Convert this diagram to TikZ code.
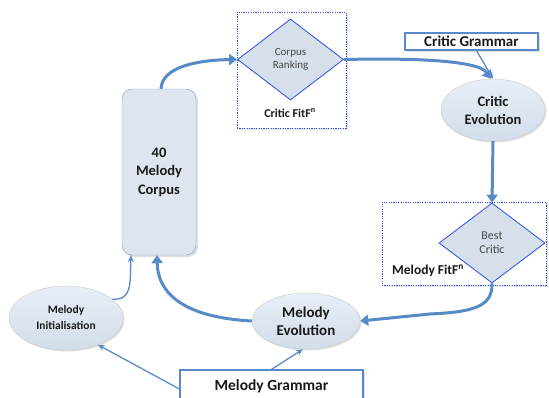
\documentclass[tikz,border=0pt]{standalone}
\usepackage{fontspec}
\setmainfont{Carlito}
\usetikzlibrary{shapes.geometric,arrows.meta,shadows}
\definecolor{arrowc}{RGB}{88,138,200}
\definecolor{ellfill}{RGB}{210,221,235}
\definecolor{elltop}{RGB}{232,238,246}
\definecolor{dotblue}{RGB}{40,80,230}
\definecolor{diafill}{RGB}{214,223,234}
\definecolor{txt}{RGB}{25,25,25}
\definecolor{txtgrey}{RGB}{70,70,70}
\newcommand{\fs}[2]{\fontsize{#1}{#2}\selectfont}
\begin{document}
\begin{tikzpicture}[x=1pt,y=-1pt,
  every node/.style={text=txt, align=center},
  ell/.style={ellipse, draw=white!80!black, top color=elltop, bottom color=ellfill, inner sep=0pt,
    drop shadow={shadow xshift=1.5pt, shadow yshift=-1.5pt, opacity=0.25}},
  gbox/.style={rectangle, draw=arrowc, line width=1.2pt, fill=white, inner sep=0pt,
    drop shadow={shadow xshift=2pt, shadow yshift=-2pt, opacity=0.25}},
  fitbox/.style={rectangle, draw=dotblue, dash pattern=on 1.2pt off 1.2pt, line width=0.9pt, fill=white, inner sep=0pt,
    drop shadow={shadow xshift=2pt, shadow yshift=-2pt, opacity=0.2}},
  dia/.style={diamond, draw=dotblue, line width=0.8pt, fill=diafill, inner sep=0pt, text=txtgrey},
  thickarr/.style={draw=arrowc, line width=3pt, -{Triangle[length=8pt,width=11pt]}},
  thinarr/.style={draw=arrowc, line width=1.3pt, -{Stealth[length=7pt,width=6pt]}}
]
\useasboundingbox (0,0) rectangle (549,397);

% fitness boxes
\node[fitbox, minimum width=109pt, minimum height=116pt] (fitA) at (291.5,70) {};
\node[fitbox, minimum width=164pt, minimum height=83pt] (fitB) at (464,243.5) {};
\node[dia, minimum width=106pt, minimum height=81pt, font=\fs{11}{13}] (rank) at (290.5,59.5) {Corpus\\Ranking};
\node[font=\fs{12}{14}\bfseries] (critfit) at (290,113) {Critic FitF\textsuperscript{n}};
\node[dia, minimum width=106pt, minimum height=80pt, font=\fs{12}{14}] (best) at (492,243) {Best\\Critic};
\node[font=\fs{13.5}{16}\bfseries] (melfit) at (428,271) {Melody FitF\textsuperscript{n}};

% grammar boxes
\node[gbox, minimum width=133pt, minimum height=17pt, font=\fs{15}{17}\bfseries] (cgram) at (471.5,41.5) {Critic Grammar};
\node[gbox, minimum width=183pt, minimum height=32pt, font=\fs{15.5}{18}\bfseries] (mgram) at (271.5,386) {Melody Grammar};

% ellipses
\node[ell, minimum width=104pt, minimum height=62pt, font=\fs{14.5}{18}\bfseries] (critevo) at (493,110) {Critic\\Evolution};
\node[ell, minimum width=108pt, minimum height=56pt, font=\fs{15}{18}\bfseries] (melevo) at (306,321) {Melody\\Evolution};
\node[ell, minimum width=114pt, minimum height=64pt, font=\fs{11.5}{16}\bfseries] (melinit) at (66,318) {Melody\\Initialisation};

% corpus
\node[rectangle, rounded corners=10pt, draw=arrowc!80, fill=diafill!80!white, minimum width=74pt, minimum height=166pt,
  inner sep=0pt, font=\fs{14.5}{18.5}\bfseries,
  drop shadow={shadow xshift=2pt, shadow yshift=-2pt, opacity=0.25}] (corpus) at (159,172) {40\\Melody\\Corpus};

% connectors
\draw[thickarr] ([xshift=2pt]corpus.north) .. controls (162,66) and (200,60) .. (rank.west);
\draw[thickarr] (rank.east) .. controls (410,58) and (478,60) .. ([xshift=-2pt]critevo.north);
\draw[thinarr] ([xshift=5pt]cgram.south) -- (critevo.north);
\draw[thickarr] (critevo.south) -- (best.north);
\draw[thickarr] (best.south) .. controls (493,308) and (470,312) .. (430,314) -- (melevo.east);
\draw[thickarr] (melevo.west) .. controls (195,318) and (158,300) .. ([xshift=-2pt]corpus.south);
\draw[thinarr] (melinit.22) .. controls (132,300) and (130,285) .. ([xshift=-28pt]corpus.south);
\draw[thinarr] ([yshift=-3pt]mgram.west) -- (melinit.-40);
\draw[thinarr] (mgram.north) -- ([xshift=-3pt]melevo.south);
\end{tikzpicture}
\end{document}
